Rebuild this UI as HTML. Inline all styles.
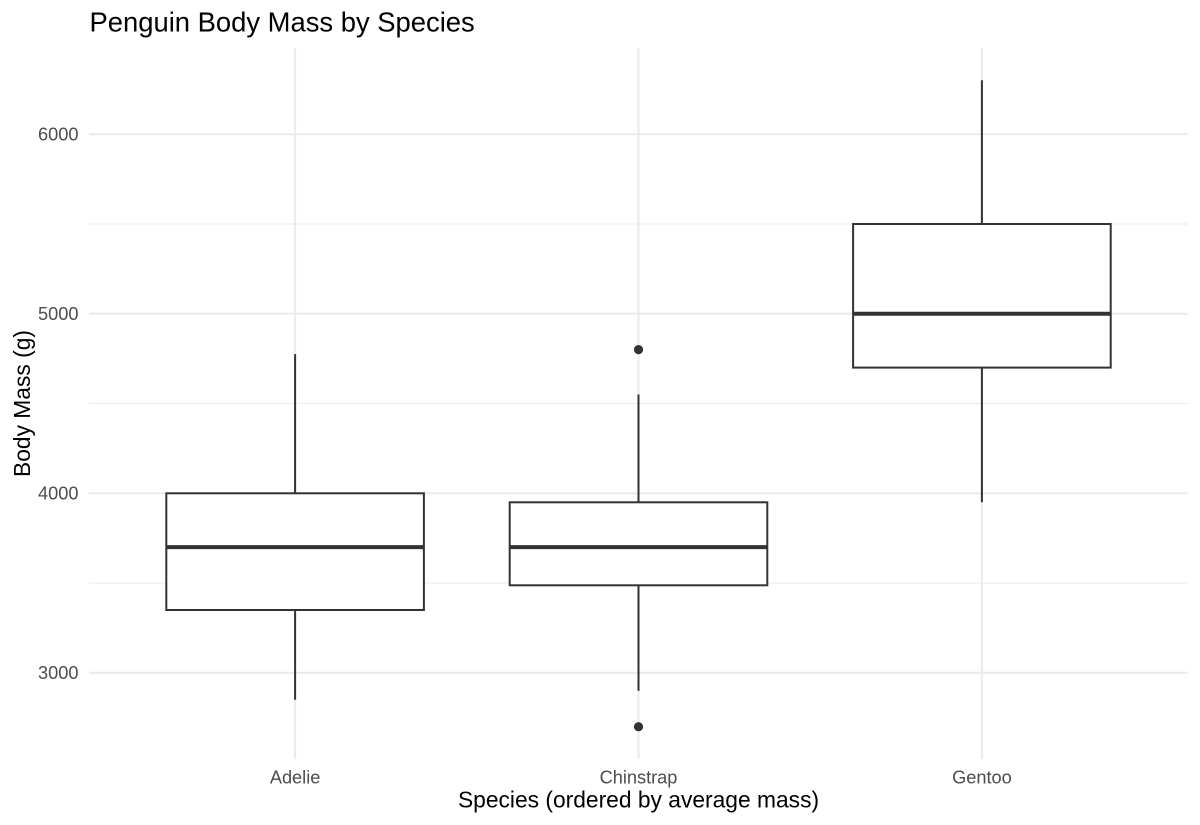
<!DOCTYPE html>
<html>
<head>
<meta charset="utf-8">
<style>
  html, body { margin: 0; padding: 0; background: #ffffff; }
  svg { display: block; }
  text { font-family: "Liberation Sans", Arial, Helvetica, sans-serif; }
</style>
</head>
<body>
<svg width="1200" height="825" viewBox="0 0 1200 825" xmlns="http://www.w3.org/2000/svg">
  <rect x="0" y="0" width="1200" height="825" fill="#ffffff"/>

  <!-- minor horizontal gridlines -->
  <g stroke="#ebebeb" stroke-width="1.1" fill="none">
    <line x1="89" y1="224.0" x2="1188" y2="224.0"/>
    <line x1="89" y1="403.5" x2="1188" y2="403.5"/>
    <line x1="89" y1="583.0" x2="1188" y2="583.0"/>
  </g>
  <!-- major horizontal gridlines -->
  <g stroke="#ebebeb" stroke-width="2.1" fill="none">
    <line x1="89" y1="134.2" x2="1188" y2="134.2"/>
    <line x1="89" y1="313.7" x2="1188" y2="313.7"/>
    <line x1="89" y1="493.3" x2="1188" y2="493.3"/>
    <line x1="89" y1="672.8" x2="1188" y2="672.8"/>
  </g>
  <!-- major vertical gridlines -->
  <g stroke="#ebebeb" stroke-width="2.1" fill="none">
    <line x1="295.1" y1="48" x2="295.1" y2="759"/>
    <line x1="638.5" y1="48" x2="638.5" y2="759"/>
    <line x1="981.9" y1="48" x2="981.9" y2="759"/>
  </g>

  <!-- Boxplots -->
  <g stroke="#333333" stroke-width="2" fill="#ffffff">
    <!-- Adelie -->
    <line x1="295.1" y1="354.1" x2="295.1" y2="493.3"/>
    <line x1="295.1" y1="610.0" x2="295.1" y2="699.7"/>
    <rect x="166.3" y="493.3" width="257.6" height="116.7"/>
    <line x1="166.3" y1="547.1" x2="423.9" y2="547.1" stroke-width="4"/>

    <!-- Chinstrap -->
    <line x1="638.5" y1="394.5" x2="638.5" y2="502.3"/>
    <line x1="638.5" y1="585.3" x2="638.5" y2="690.8"/>
    <rect x="509.7" y="502.3" width="257.6" height="83.0"/>
    <line x1="509.7" y1="547.1" x2="767.3" y2="547.1" stroke-width="4"/>

    <!-- Gentoo -->
    <line x1="981.9" y1="80.3" x2="981.9" y2="224.0"/>
    <line x1="981.9" y1="367.6" x2="981.9" y2="502.2"/>
    <rect x="853.1" y="224.0" width="257.6" height="143.6"/>
    <line x1="853.1" y1="313.7" x2="1110.7" y2="313.7" stroke-width="4"/>
  </g>
  <!-- outliers -->
  <g fill="#333333">
    <circle cx="638.5" cy="349.6" r="4.6"/>
    <circle cx="638.5" cy="726.7" r="4.6"/>
  </g>

  <!-- y tick labels -->
  <g fill="#4d4d4d" font-size="18.2" text-anchor="end">
    <text x="78.5" y="140.6">6000</text>
    <text x="78.5" y="320.1">5000</text>
    <text x="78.5" y="499.7">4000</text>
    <text x="78.5" y="679.2">3000</text>
  </g>

  <!-- x tick labels -->
  <g fill="#4d4d4d" font-size="18.2" text-anchor="middle">
    <text x="295.1" y="783.3">Adelie</text>
    <text x="638.5" y="783.3">Chinstrap</text>
    <text x="981.9" y="783.3">Gentoo</text>
  </g>

  <!-- axis titles -->
  <text x="638.5" y="807.5" font-size="22.8" fill="#000000" text-anchor="middle">Species (ordered by average mass)</text>
  <text x="0" y="0" font-size="22.8" fill="#000000" text-anchor="middle" transform="translate(30,403.5) rotate(-90)">Body Mass (g)</text>

  <!-- title -->
  <text x="89.5" y="31.7" font-size="27.4" fill="#000000">Penguin Body Mass by Species</text>
</svg>
</body>
</html>
